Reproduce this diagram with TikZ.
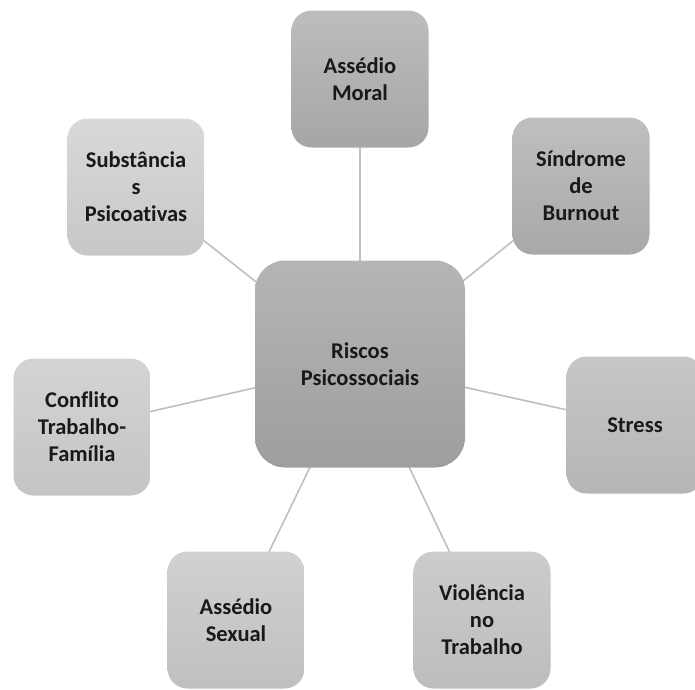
\documentclass[tikz,border=0pt]{standalone}
\usepackage{fontspec}
\setmainfont[Ligatures=NoCommon]{Carlito}
\usetikzlibrary{positioning,backgrounds}

\begin{document}
\begin{tikzpicture}[x=1pt, y=-1pt,
		box/.style={rectangle, rounded corners=20pt, minimum width=137pt, minimum height=137pt,
			align=center, text=black!90, font=\fontsize{22.5}{27}\selectfont\bfseries},
		link/.style={draw=black!25, line width=1.6pt}]
			\useasboundingbox (0,0) rectangle (695,689);
			\node[box, minimum width=210pt, minimum height=207pt, rounded corners=30pt,
				top color=black!29, bottom color=black!38] (riscos) at (360,364) {Riscos\\Psicossociais};
			\node[box, top color=black!26, bottom color=black!35] (moral) at (360,79) {Assédio\\Moral};
			\node[box, top color=black!25, bottom color=black!34] (burnout) at (581,186) {Síndrome\\de\\Burnout};
			\node[box, top color=black!22, bottom color=black!29] (stress) at (635,425) {Stress};
			\node[box, top color=black!20, bottom color=black!26] (violencia) at (482,620) {Violência\\no\\Trabalho};
			\node[box, top color=black!18, bottom color=black!25] (sexual) at (236,620) {Assédio\\Sexual};
			\node[box, top color=black!17, bottom color=black!23] (conflito) at (82,427) {Conflito\\Trabalho-\\Família};
			\node[box, top color=black!15, bottom color=black!22] (subst) at (136,187) {Substância\\s\\Psicoativas};
			\begin{pgfonlayer}{background}
				\foreach \s in {moral, burnout, stress, violencia, sexual, conflito, subst} {
					\draw[link] (riscos.center) -- (\s.center);
				};
			\end{pgfonlayer}
		\end{tikzpicture}
\end{document}
